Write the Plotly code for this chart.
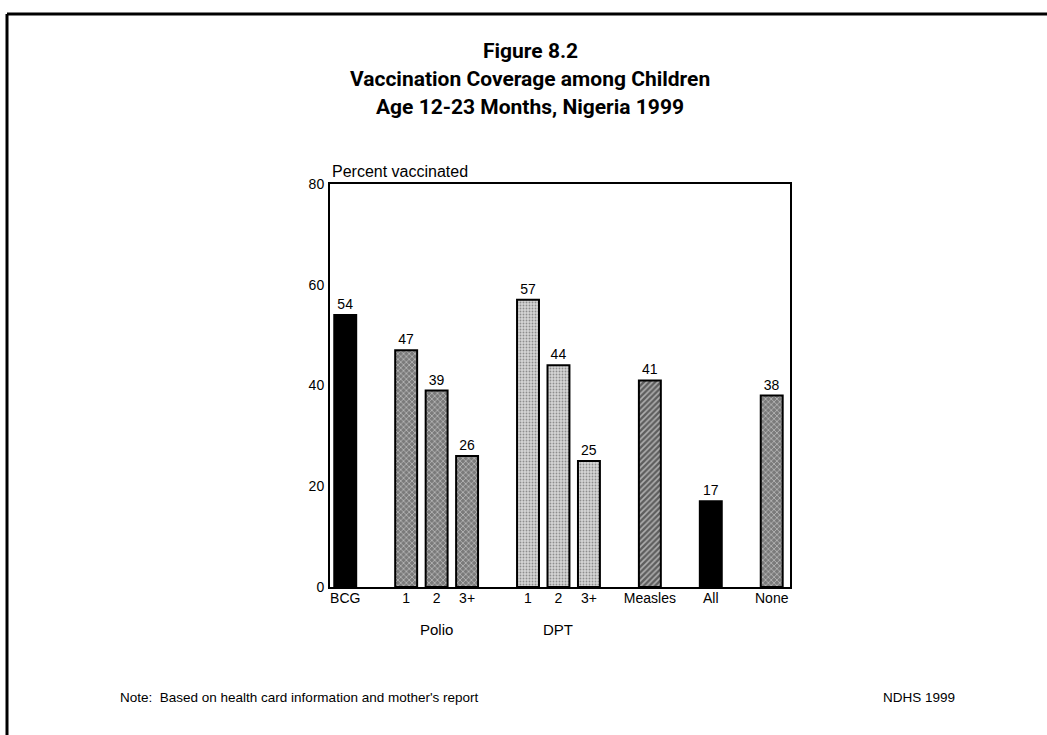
import plotly.graph_objects as go

# ---- data ----
group_names = ["", "Polio", "DPT", "", "", ""]
group_items = [["BCG"], ["1", "2", "3+"], ["1", "2", "3+"], ["Measles"], ["All"], ["None"]]
values = [54, 47, 39, 26, 57, 44, 25, 41, 17, 38]
y_ticks = [0, 20, 40, 60, 80]

title_lines = ["Figure 8.2", "Vaccination Coverage among Children", "Age 12-23 Months, Nigeria 1999"]
y_title = "Percent vaccinated"
note = "Note:  Based on health card information and mother's report"
source = "NDHS 1999"

# ---- styles per bar (fill kind) ----
kinds = ["solid", "polio", "polio", "polio", "dpt", "dpt", "dpt", "measles", "solid", "polio"]
style = {
    "solid":   dict(color="#000000", shape="", fg="#000000", size=4, sol=0.5),
    "polio":   dict(color="#7a7a7a", shape="x", fg="#000000", size=4, sol=0.35),
    "dpt":     dict(color="#d6d6d6", shape=".", fg="#444444", size=3, sol=0.3),
    "measles": dict(color="#5e5e5e", shape="/", fg="#000000", size=4, sol=0.4),
}

# positions derived from group structure: one empty slot between groups
xpos, ticktext, group_centers = [], [], []
p = 0
for name, items in zip(group_names, group_items):
    start = p
    for it in items:
        xpos.append(p)
        ticktext.append(it)
        p += 1
    group_centers.append((name, (start + p - 1) / 2))
    p += 1
last = xpos[-1]

FONT = "Liberation Sans, Arial, sans-serif"
TFONT = "Roboto, Liberation Sans, Arial, sans-serif"

fig = go.Figure()
fig.add_trace(go.Bar(
    x=xpos, y=values, width=0.72,
    text=[str(v) for v in values], textposition="outside",
    textfont=dict(family=FONT, size=14, color="black"),
    cliponaxis=False,
    marker=dict(
        color=[style[k]["color"] for k in kinds],
        line=dict(color="black", width=2),
        pattern=dict(
            shape=[style[k]["shape"] for k in kinds],
            fgcolor=[style[k]["fg"] for k in kinds],
            size=[style[k]["size"] for k in kinds],
            solidity=[style[k]["sol"] for k in kinds],
            fillmode="overlay",
        ),
    ),
    showlegend=False,
))

W, H = 1047, 735
L, R, T, B = 330, 257, 184, 148
PW, PH = W - L - R, H - T - B

def px_x(x):
    return (x - L) / PW

def px_y(y):
    return (H - B - y) / PH

fig.update_layout(
    width=W, height=H, autosize=False,
    margin=dict(l=L, r=R, t=T, b=B, pad=0),
    paper_bgcolor="white", plot_bgcolor="white",
    font=dict(family=FONT, size=13, color="black"),
    xaxis=dict(
        range=[-0.5, last + 0.6], tickmode="array", tickvals=xpos, ticktext=ticktext,
        showline=True, linecolor="black", linewidth=2, mirror=True,
        showgrid=False, zeroline=False, ticks="", tickfont=dict(size=14),
        ticklabelstandoff=-3,
    ),
    yaxis=dict(
        range=[0, 80], tickmode="array", tickvals=y_ticks,
        showline=True, linecolor="black", linewidth=2, mirror=True,
        showgrid=False, zeroline=False, ticks="", ticklabelstandoff=1,
        tickfont=dict(size=14),
    ),
)

annotations = []
for i, line in enumerate(title_lines):
    annotations.append(dict(
        text=f"<b>{line}</b>", xref="paper", yref="paper",
        x=px_x(530), y=px_y(51 + 28 * i),
        xanchor="center", yanchor="middle", showarrow=False,
        font=dict(family=TFONT, size=21, color="black", weight=900),
    ))
annotations.append(dict(
    text=y_title, xref="paper", yref="paper", x=0, y=1,
    xanchor="left", yanchor="bottom", yshift=2, showarrow=False,
    font=dict(family=FONT, size=16),
))
for name, c in group_centers:
    if name:
        annotations.append(dict(
            text=name, x=c, xref="x", yref="paper", y=px_y(629),
            xanchor="center", yanchor="middle", showarrow=False,
            font=dict(family=FONT, size=15),
        ))
annotations.append(dict(
    text=note, xref="paper", yref="paper",
    x=px_x(118), y=px_y(697),
    xanchor="left", yanchor="middle", showarrow=False, font=dict(family=FONT, size=13.5),
))
annotations.append(dict(
    text=source, xref="paper", yref="paper",
    x=px_x(957), y=px_y(697),
    xanchor="right", yanchor="middle", showarrow=False, font=dict(family=FONT, size=13.5),
))
fig.update_layout(annotations=annotations)

# outer frame: top and left lines
fig.add_shape(type="line", xref="paper", yref="paper",
              x0=px_x(7), x1=px_x(W), y0=px_y(14), y1=px_y(14),
              line=dict(color="black", width=3))
fig.add_shape(type="line", xref="paper", yref="paper",
              x0=px_x(7), x1=px_x(7), y0=px_y(14), y1=px_y(H),
              line=dict(color="black", width=3))

fig.write_html("out.html", config={"displayModeBar": False},
               post_script="document.body.style.margin='0';document.body.style.overflow='hidden';")
